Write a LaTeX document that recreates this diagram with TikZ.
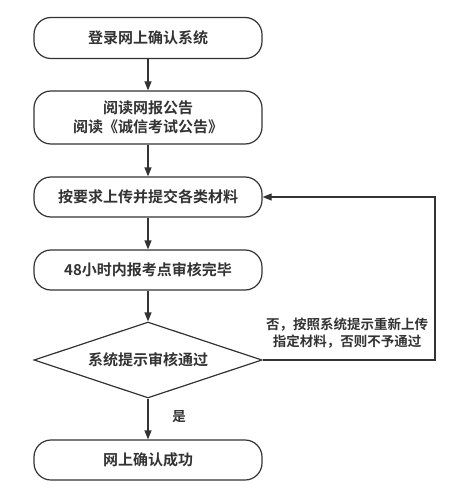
\documentclass[tikz,border=0pt]{standalone}
\usepackage{fontspec}
\newfontfamily\cjk{Noto Sans CJK SC Bold}
\usetikzlibrary{shapes.geometric,arrows.meta}
\definecolor{ink}{HTML}{333333}
\begin{document}
\begin{tikzpicture}[x=1pt,y=-1pt,
  box/.style={draw=ink,line width=1.2pt,rounded corners=17pt,minimum width=228pt,inner sep=0pt,text=ink,font=\cjk\fontsize{15}{19}\selectfont,align=center},
  dec/.style={draw=ink,line width=1.2pt,diamond,aspect=3,inner sep=0pt,minimum width=228pt,minimum height=76pt,text=ink,font=\cjk\fontsize{15}{19}\selectfont},
  arr/.style={draw=ink,line width=1.2pt,-{Triangle[length=9pt,width=7pt]}},
  lbl/.style={text=ink,font=\cjk\fontsize{13.5}{17}\selectfont,align=center}]
\useasboundingbox (0,0) rectangle (471,497);
\node[box,minimum height=41pt] (b1) at (148,38) {登录网上确认系统};
\node[box,minimum height=53pt] (b2) at (148,117.5) {阅读网报公告\\阅读《诚信考试公告》};
\node[box,minimum height=40pt] (b3) at (148,197) {按要求上传并提交各类材料};
\node[box,minimum height=40pt] (b4) at (148,270) {48小时内报考点审核完毕};
\node[dec] (d) at (148,360) {系统提示审核通过};
\node[box,minimum height=40pt] (b5) at (148,460) {网上确认成功};
\coordinate (c1) at (435,360);
\coordinate (c2) at (435,197);
\draw[arr] (b1) -- (b2);
\draw[arr] (b2) -- (b3);
\draw[arr] (b3) -- (b4);
\draw[arr] (b4) -- (d);
\draw[arr] (d) -- (b5);
\draw[arr] (d.east) -- (c1) -- (c2) -- (b3.east);
\node[lbl] (n) at (347,333) {否，按照系统提示重新上传\\指定材料，否则不予通过};
\node[lbl] (y) at (179,417) {是};
\end{tikzpicture}
\end{document}
